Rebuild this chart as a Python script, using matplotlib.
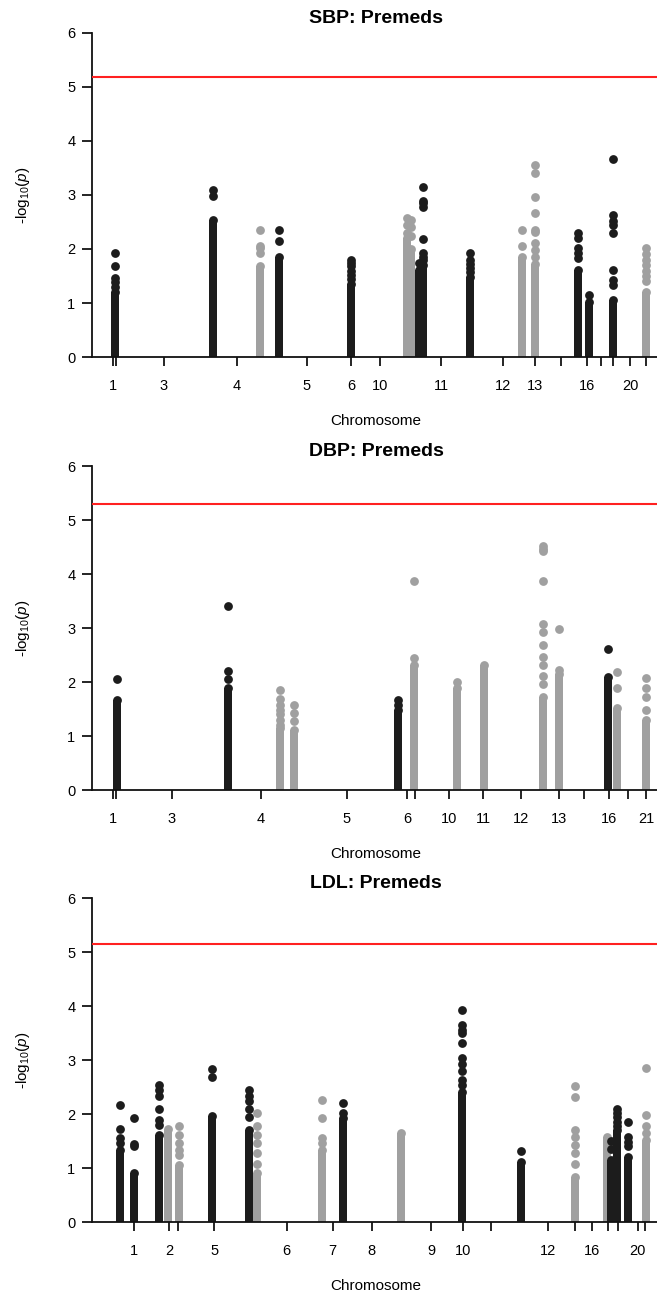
import matplotlib
matplotlib.use('Agg')
import matplotlib.pyplot as plt

plt.rcParams['font.family'] = ['Liberation Sans', 'DejaVu Sans']
plt.rcParams['mathtext.fontset'] = 'custom'
plt.rcParams['mathtext.rm'] = 'Liberation Sans'
plt.rcParams['mathtext.it'] = 'Liberation Sans:italic'

# posiciones en escala genomica acumulada (0-568), grupo 1 = cromosoma oscuro
sbp_pos = [23, 121, 168, 187, 259, 315, 319, 327, 331, 378, 430, 443, 486, 497, 521, 554]
sbp_grupo = [1, 1, 0, 1, 1, 0, 0, 1, 1, 1, 0, 0, 1, 1, 1, 0]
sbp_tope = [1.21, 2.54, 1.69, 1.86, 1.36, 2.20, 2.00, 1.61, 1.70, 1.49, 1.86, 1.73, 1.61, 1.02, 1.06, 1.21]
sbp_puntos = [
    [1.30, 1.38, 1.46, 1.69, 1.92],
    [2.99, 3.10],
    [1.92, 2.01, 2.05, 2.36],
    [2.14, 2.36],
    [1.45, 1.52, 1.60, 1.68, 1.74, 1.80],
    [2.30, 2.45, 2.57],
    [2.25, 2.40, 2.53],
    [1.75],
    [1.80, 1.85, 1.92, 2.18, 2.77, 2.85, 2.89, 3.14],
    [1.58, 1.65, 1.72, 1.80, 1.93],
    [2.06, 2.36],
    [1.86, 1.98, 2.12, 2.32, 2.36, 2.66, 2.96, 3.40, 3.56],
    [1.83, 1.92, 2.01, 2.21, 2.29],
    [1.14],
    [1.33, 1.43, 1.61, 2.30, 2.44, 2.52, 2.63, 3.67],
    [1.40, 1.50, 1.60, 1.70, 1.80, 1.90, 2.01],
]
sbp_ticks = [20.7, 24, 72, 144.7, 215, 259, 288, 349, 411, 443, 469, 495, 509, 521, 538, 554]
sbp_etiq = ['1', '', '3', '4', '5', '6', '10', '11', '12', '13', '', '16', '', '', '20', '']
sbp_umbral = 5.19

dbp_pos = [25, 136, 188, 202, 306, 322, 365, 392, 451, 467, 516, 525, 554]
dbp_grupo = [1, 1, 0, 0, 1, 0, 0, 0, 0, 0, 1, 0, 0]
dbp_tope = [1.66, 1.88, 1.14, 1.11, 1.48, 2.31, 1.88, 2.31, 1.72, 2.15, 2.09, 1.51, 1.29]
dbp_puntos = [
    [2.06],
    [2.06, 2.21, 3.40],
    [1.20, 1.30, 1.40, 1.48, 1.57, 1.68, 1.85],
    [1.27, 1.42, 1.57],
    [1.58, 1.66],
    [2.44, 3.87],
    [2.00],
    [],
    [1.97, 2.12, 2.31, 2.47, 2.68, 2.92, 3.08, 3.87, 4.42, 4.47, 4.52],
    [2.22, 2.98],
    [2.61],
    [1.89, 2.18],
    [1.48, 1.72, 1.88, 2.08],
]
dbp_ticks = [20.7, 24, 79.7, 168.7, 254.7, 315, 323.3, 357.3, 391, 429, 466.7, 491.7, 517.3, 536, 554]
dbp_etiq = ['1', '', '3', '4', '5', '6', '', '10', '11', '12', '13', '', '16', '', '21']
dbp_umbral = 5.29

ldl_pos = [28, 42, 67, 76, 87, 120, 157, 165, 230, 251, 309, 370, 429, 483, 515, 519, 525, 536, 554]
ldl_grupo = [1, 1, 1, 0, 0, 1, 1, 0, 0, 1, 0, 1, 1, 0, 0, 1, 1, 1, 0]
ldl_tope = [1.33, 0.90, 1.61, 1.73, 1.06, 1.96, 1.70, 0.90, 1.33, 1.92, 1.64, 2.41, 1.12, 0.84, 1.58,
            1.15, 1.70, 1.21, 1.52]
ldl_puntos = [
    [1.46, 1.55, 1.72, 2.17],
    [1.40, 1.44, 1.92],
    [1.80, 1.89, 2.10, 2.33, 2.45, 2.54],
    [],
    [1.24, 1.33, 1.46, 1.61, 1.77],
    [2.68, 2.83],
    [1.95, 2.10, 2.24, 2.34, 2.44],
    [1.08, 1.27, 1.46, 1.61, 1.77, 2.02],
    [1.46, 1.55, 1.92, 2.26],
    [2.02, 2.21],
    [],
    [2.54, 2.63, 2.80, 2.92, 3.03, 3.32, 3.50, 3.56, 3.65, 3.93],
    [1.31],
    [1.08, 1.27, 1.43, 1.58, 1.70, 2.32, 2.51],
    [],
    [1.35, 1.50],
    [1.78, 1.85, 1.94, 2.02, 2.10],
    [1.40, 1.48, 1.58, 1.85],
    [1.64, 1.77, 1.98, 2.85],
]
ldl_ticks = [42.3, 77, 86.3, 122.3, 194.7, 240.7, 279.7, 339.3, 370.7, 399, 455.7, 483.3, 500,
             515.7, 526, 545.7, 553.3]
ldl_etiq = ['1', '2', '', '5', '6', '7', '8', '9', '10', '', '12', '', '16', '', '', '20', '']
ldl_umbral = 5.15

NEGRO = '#1c1c1c'
GRIS = '#a0a0a0'

W, H = 657, 1297
fig = plt.figure(figsize=(W / 100, H / 100), dpi=100)


def manhattan(base_px, titulo, pos, grupo, tope, puntos, umbral, ticks, etiquetas):
    ax = fig.add_axes([92 / W, 1 - base_px / H, 568 / W, 324 / H])
    # grises primero, negros encima
    for capa in (0, 1):
        for x, g, t, pts in zip(pos, grupo, tope, puntos):
            if g != capa:
                continue
            c = NEGRO if g else GRIS
            ax.bar(x, t, width=8, color=c, linewidth=0, zorder=2)
            ys = [t] + pts
            ax.scatter([x] * len(ys), ys, s=40, color=c, linewidths=0, zorder=3)
    ax.axhline(umbral, color='#ff2020', lw=1.5, zorder=4)
    ax.set_xlim(0, 568)
    ax.set_ylim(0, 6)
    ax.set_yticks(range(7))
    ax.set_xticks(ticks)
    ax.set_xticklabels(etiquetas)
    for s in ('top', 'right'):
        ax.spines[s].set_visible(False)
    for s in ('left', 'bottom'):
        ax.spines[s].set_linewidth(1.3)
        ax.spines[s].set_color('#111111')
    ax.tick_params(axis='x', direction='out', length=6.5, width=1.2, pad=9, labelsize=10.5)
    ax.tick_params(axis='y', direction='out', length=7, width=1.2, pad=5, labelsize=10.5)
    ax.set_title(titulo, fontsize=14, fontweight='bold', pad=7)
    ax.text(0.5, -57 / 324, 'Chromosome', ha='center', va='top', fontsize=11,
            transform=ax.transAxes)
    ax.text(-69 / 568, 0.5, r'-log$_{10}$($\it{p}$)', ha='center', va='center', rotation=90,
            fontsize=11, transform=ax.transAxes)
    return ax


manhattan(357, 'SBP: Premeds', sbp_pos, sbp_grupo, sbp_tope, sbp_puntos, sbp_umbral,
          sbp_ticks, sbp_etiq)
manhattan(790, 'DBP: Premeds', dbp_pos, dbp_grupo, dbp_tope, dbp_puntos, dbp_umbral,
          dbp_ticks, dbp_etiq)
manhattan(1222, 'LDL: Premeds', ldl_pos, ldl_grupo, ldl_tope, ldl_puntos, ldl_umbral,
          ldl_ticks, ldl_etiq)

fig.savefig('out.png', dpi=100)
